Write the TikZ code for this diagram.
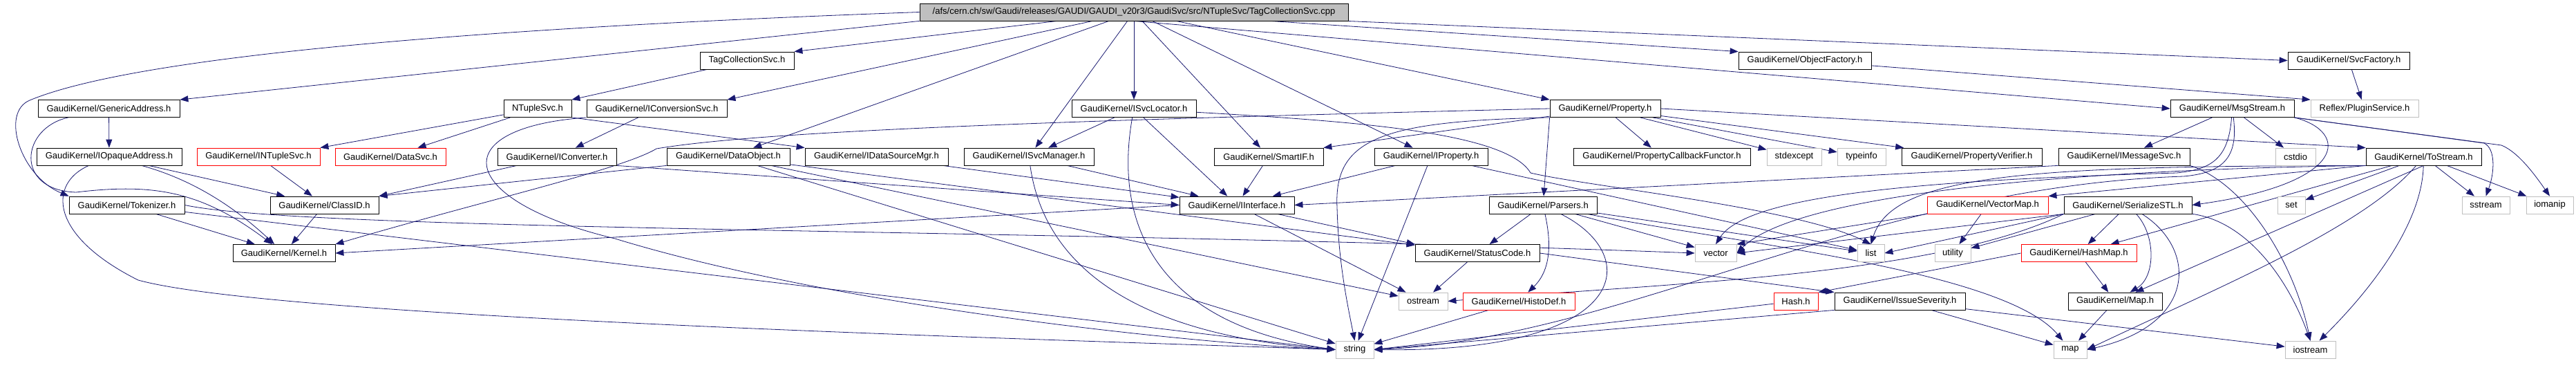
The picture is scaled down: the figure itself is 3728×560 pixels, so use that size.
\documentclass[tikz,border=0pt]{standalone}
\usepackage{fontspec}
\newfontfamily\dxfont{Liberation Sans}
\usetikzlibrary{arrows.meta, backgrounds}
\definecolor{edgeblue}{RGB}{25,25,112}
\definecolor{extgray}{RGB}{191,191,191}
\definecolor{truncred}{RGB}{255,0,0}

\begin{document}
\begin{tikzpicture}[x=1pt, y=-1pt,
    hdr/.style={draw=black, fill=white, inner sep=0pt, minimum height=25pt,
                line width=0.8pt, font=\dxfont\fontsize{13}{15}\selectfont},
    sysh/.style={hdr, draw=extgray},
    trunc/.style={hdr, draw=truncred},
    incl/.style={draw=edgeblue, line width=0.8pt, -{Triangle[length=12pt, width=9pt]}}]
\useasboundingbox (0,0) rectangle (3728,560);

% the source file
\node[hdr, fill=extgray, minimum width=620pt] (top) at (1641,17.5)
     {/afs/cern.ch/sw/Gaudi/releases/GAUDI/GAUDI\_v20r3/GaudiSvc/src/NTupleSvc/TagCollectionSvc.cpp};

% row 1
\node[hdr, minimum width=136pt] (tagsvch) at (1081,87.5) {TagCollectionSvc.h};
\node[hdr, minimum width=192pt] (objfac) at (2612,87.5) {GaudiKernel/ObjectFactory.h};
\node[hdr, minimum width=176pt] (svcfac) at (3399,87.5) {GaudiKernel/SvcFactory.h};

% row 2
\node[hdr, minimum width=205pt] (genaddr) at (157.5,157) {GaudiKernel/GenericAddress.h};
\node[hdr, minimum width=98pt] (ntuplesvc) at (778,157) {NTupleSvc.h};
\node[hdr, minimum width=203pt] (iconvsvc) at (950.5,157) {GaudiKernel/IConversionSvc.h};
\node[hdr, minimum width=180pt] (isvcloc) at (1641,157) {GaudiKernel/ISvcLocator.h};
\node[hdr, minimum width=160pt] (property) at (2323,157) {GaudiKernel/Property.h};
\node[hdr, minimum width=179pt] (msgstream) at (3230.5,157) {GaudiKernel/MsgStream.h};
\node[sysh, minimum width=156pt] (plugin) at (3422,157) {Reflex/PluginService.h};

% row 3
\node[hdr, minimum width=210pt] (iopaque) at (158,226.5) {GaudiKernel/IOpaqueAddress.h};
\node[trunc, minimum width=178pt] (intuplesvc) at (374,226.5) {GaudiKernel/INTupleSvc.h};
\node[trunc, minimum width=160pt] (datasvc) at (565,226.5) {GaudiKernel/DataSvc.h};
\node[hdr, minimum width=172pt] (iconverter) at (806,226.5) {GaudiKernel/IConverter.h};
\node[hdr, minimum width=178pt] (dataobj) at (1054,226.5) {GaudiKernel/DataObject.h};
\node[hdr, minimum width=207pt] (idsmgr) at (1268.5,226.5) {GaudiKernel/IDataSourceMgr.h};
\node[hdr, minimum width=188pt] (isvcmgr) at (1489,226.5) {GaudiKernel/ISvcManager.h};
\node[hdr, minimum width=158pt] (smartif) at (1836,226.5) {GaudiKernel/SmartIF.h};
\node[hdr, minimum width=164pt] (iproperty) at (2071,226.5) {GaudiKernel/IProperty.h};
\node[hdr, minimum width=256pt] (propcb) at (2405,226.5) {GaudiKernel/PropertyCallbackFunctor.h};
\node[sysh, minimum width=79pt] (stdexcept) at (2596.5,226.5) {stdexcept};
\node[sysh, minimum width=70pt] (typeinfo) at (2694,226.5) {typeinfo};
\node[hdr, minimum width=203pt] (propver) at (2853.5,226.5) {GaudiKernel/PropertyVerifier.h};
\node[hdr, minimum width=190pt] (imsgsvc) at (3074,226.5) {GaudiKernel/IMessageSvc.h};
\node[sysh, minimum width=58pt] (cstdio) at (3322,226.5) {cstdio};
\node[hdr, minimum width=167pt] (tostream) at (3507.5,226.5) {GaudiKernel/ToStream.h};

% row 4
\node[hdr, minimum width=167pt] (tokenizer) at (183.5,296.5) {GaudiKernel/Tokenizer.h};
\node[hdr, minimum width=157pt] (classid) at (469.5,296.5) {GaudiKernel/ClassID.h};
\node[hdr, minimum width=166pt] (iinterface) at (1790,296.5) {GaudiKernel/IInterface.h};
\node[hdr, minimum width=156pt] (parsers) at (2233,296.5) {GaudiKernel/Parsers.h};
\node[trunc, minimum width=175pt] (vectormap) at (2876.5,296.5) {GaudiKernel/VectorMap.h};
\node[hdr, minimum width=185pt] (serialize) at (3079.5,296.5) {GaudiKernel/SerializeSTL.h};
\node[sysh, minimum width=40pt] (set) at (3316,296.5) {set};
\node[sysh, minimum width=69pt] (sstream) at (3597.5,296.5) {sstream};
\node[sysh, minimum width=68pt] (iomanip) at (3690,296.5) {iomanip};

% row 5
\node[hdr, minimum width=148pt] (kernel) at (411,366) {GaudiKernel/Kernel.h};
\node[hdr, minimum width=180pt] (statuscode) at (2138,366) {GaudiKernel/StatusCode.h};
\node[sysh, minimum width=60pt] (vector) at (2483,366) {vector};
\node[sysh, minimum width=39pt] (list) at (2707.5,366) {list};
\node[sysh, minimum width=52pt] (utility) at (2826,366) {utility};
\node[trunc, minimum width=167pt] (hashmap) at (3008.5,366) {GaudiKernel/HashMap.h};

% row 6
\node[sysh, minimum width=71pt] (ostream) at (2059.5,435.5) {ostream};
\node[trunc, minimum width=162pt] (histodef) at (2198,435.5) {GaudiKernel/HistoDef.h};
\node[trunc, minimum width=64pt] (hash) at (2599,435.5) {Hash.h};
\node[hdr, minimum width=189pt] (issuesev) at (2749.5,435.5) {GaudiKernel/IssueSeverity.h};
\node[hdr, minimum width=136pt] (gmap) at (3061,435.5) {GaudiKernel/Map.h};

% row 7
\node[sysh, minimum width=55pt] (string) at (1960.5,505.5) {string};
\node[sysh, minimum width=48pt] (stdmap) at (2996,505.5) {map};
\node[sysh, minimum width=73pt] (iostream) at (3343.5,505.5) {iostream};

\begin{pgfonlayer}{background}
% includes of the .cpp file
\draw[incl] (top.west) .. controls (700,40) and (200,80) .. (43,145)
            .. controls (0,163) and (30,255) .. (tokenizer.north west);
\draw[incl] (top.south west) -- (genaddr.north east);
\draw[incl] (top) -- (tagsvch.north east);
\draw[incl] (top) -- (iconvsvc.north east);
\draw[incl] (top) -- (dataobj);
\draw[incl] (top) -- (isvcmgr);
\draw[incl] (top) -- (isvcloc);
\draw[incl] (top) -- (smartif);
\draw[incl] (top) -- (iproperty);
\draw[incl] (top) -- (property.north west);
\draw[incl] (top) -- (objfac.north west);
\draw[incl] (top.south) -- (msgstream.west);
\draw[incl] (top) -- (svcfac.west);

% rows 1 and 2
\draw[incl] (tagsvch) -- (ntuplesvc.north east);
\draw[incl] (objfac) -- (plugin.north west);
\draw[incl] (svcfac) -- (plugin);
\draw[incl] (genaddr) -- (iopaque);
\draw[incl] (genaddr) .. controls (30,185) and (20,275) .. (110,278)
            .. controls (220,265) and (290,275) .. (kernel);
\draw[incl] (ntuplesvc) -- (intuplesvc.north east);
\draw[incl] (ntuplesvc) -- (datasvc);
\draw[incl] (ntuplesvc.south east) -- (idsmgr.north west);
\draw[incl] (iconvsvc) -- (iconverter);
\draw[incl] (iconvsvc.south west) .. controls (640,185) and (660,290) .. (890,345)
            .. controls (1200,440) and (1700,495) .. (string.west);
\draw[incl] (isvcloc) -- (isvcmgr);
\draw[incl] (isvcloc) -- (iinterface);
\draw[incl] (isvcloc) .. controls (1610,330) and (1680,470) .. (string.west);
\draw[incl] (isvcloc) .. controls (1950,175) and (2180,190) .. (2215,250)
            .. controls (2300,270) and (2600,300) .. (list.north);
\draw[incl] (property.west) .. controls (1500,175) and (1100,190) .. (950,215)
            .. controls (900,245) and (700,290) .. (kernel.north east);
\draw[incl] (property) -- (smartif.north east);
\draw[incl] (property) -- (propcb);
\draw[incl] (property) -- (stdexcept);
\draw[incl] (property) -- (typeinfo);
\draw[incl] (property) -- (propver);
\draw[incl] (property.south west) -- (parsers);
\draw[incl] (property.east) -- (tostream.north west);
\draw[incl] (property.south west) .. controls (2000,175) and (1930,200) .. (1935,300)
            .. controls (1937,380) and (1950,440) .. (string.north);
\draw[incl] (msgstream) -- (imsgsvc);
\draw[incl] (msgstream) -- (cstdio);
\draw[incl] (msgstream.south east) .. controls (3400,190) and (3400,265) .. (serialize.east);
\draw[incl] (msgstream.south east) -- (3595,207) .. controls (3612,215) and (3610,250) .. (sstream.north);
\draw[incl] (msgstream.south east) -- (3620,210) .. controls (3645,220) and (3670,255) .. (iomanip.north);
\draw[incl] (msgstream) .. controls (3225,230) and (3200,245) .. (3150,250)
            .. controls (2800,260) and (2530,280) .. (vector.north);
\draw[incl] (msgstream) .. controls (3240,230) and (3215,250) .. (3160,255)
            .. controls (2700,270) and (2350,490) .. (string.east);

% row 3
\draw[incl] (iopaque) -- (classid);
\draw[incl] (iopaque) .. controls (280,260) and (340,300) .. (kernel);
\draw[incl] (iopaque) .. controls (70,265) and (70,340) .. (200,405)
            .. controls (400,460) and (1500,490) .. (string.west);
\draw[incl] (intuplesvc) -- (classid);
\draw[incl] (iconverter) -- (classid.north east);
\draw[incl] (iconverter.south east) -- (iinterface.west);
\draw[incl] (dataobj.south west) -- (classid.north east);
\draw[incl] (dataobj) -- (statuscode);
\draw[incl] (dataobj) -- (ostream);
\draw[incl] (dataobj) -- (string);
\draw[incl] (idsmgr) -- (iinterface);
\draw[incl] (isvcmgr) -- (iinterface);
\draw[incl] (isvcmgr) .. controls (1505,340) and (1580,480) .. (string.west);
\draw[incl] (smartif) -- (iinterface);
\draw[incl] (iproperty) -- (iinterface);
\draw[incl] (iproperty) -- (string);
\draw[incl] (iproperty) -- (list);
\draw[incl] (imsgsvc.south west) -- (iinterface.east);
\draw[incl] (imsgsvc.south east) .. controls (3250,265) and (3320,380) .. (iostream.north);
\draw[incl] (tostream) -- (set);
\draw[incl] (tostream) -- (sstream);
\draw[incl] (tostream) -- (iomanip);
\draw[incl] (tostream) .. controls (3505,330) and (3420,430) .. (iostream);
\draw[incl] (tostream.south west) -- (vectormap.north east);
\draw[incl] (tostream) -- (hashmap);
\draw[incl] (tostream.south) -- (gmap);
\draw[incl] (tostream) .. controls (3420,330) and (3200,420) .. (stdmap.east);
\draw[incl] (tostream.south west) .. controls (3000,245) and (2600,280) .. (vector.east);
\draw[incl] (tostream.south west) .. controls (2950,240) and (2740,250) .. (list.north);

% row 4
\draw[incl] (tokenizer) -- (kernel);
\draw[incl] (tokenizer) -- (string.west);
\draw[incl] (tokenizer.east) .. controls (450,335) and (1500,330) .. (vector.west);
\draw[incl] (classid) -- (kernel);
\draw[incl] (iinterface.west) -- (kernel.east);
\draw[incl] (iinterface) -- (statuscode.north west);
\draw[incl] (iinterface) -- (ostream);
\draw[incl] (parsers) -- (statuscode);
\draw[incl] (parsers) .. controls (2245,350) and (2245,390) .. (histodef);
\draw[incl] (parsers) .. controls (2380,370) and (2360,510) .. (string.east);
\draw[incl] (parsers) -- (vector);
\draw[incl] (parsers) -- (list);
\draw[incl] (parsers) .. controls (2500,350) and (2900,390) .. (stdmap);
\draw[incl] (vectormap) -- (utility);
\draw[incl] (vectormap.south west) -- (vector.north east);
\draw[incl] (serialize) -- (hashmap);
\draw[incl] (serialize) .. controls (3120,340) and (3120,400) .. (gmap);
\draw[incl] (serialize) .. controls (3180,360) and (3180,470) .. (stdmap.east);
\draw[incl] (serialize) -- (utility);
\draw[incl] (serialize.south west) -- (vector.east);
\draw[incl] (serialize.south west) -- (list.east);
\draw[incl] (serialize.south west) .. controls (2800,400) and (2400,410) .. (ostream.east);
\draw[incl] (serialize) .. controls (3250,320) and (3310,400) .. (iostream.north);

% rows 5 and 6
\draw[incl] (statuscode) -- (ostream);
\draw[incl] (statuscode.east) -- (issuesev.north west);
\draw[incl] (hashmap) -- (gmap);
\draw[incl] (hashmap.west) -- (hash.north east);
\draw[incl] (histodef) -- (string);
\draw[incl] (hash) -- (string.east);
\draw[incl] (issuesev.south west) -- (string.east);
\draw[incl] (issuesev) -- (stdmap);
\draw[incl] (issuesev) -- (iostream);
\draw[incl] (gmap) -- (stdmap);
\end{pgfonlayer}
\end{tikzpicture}
\end{document}
